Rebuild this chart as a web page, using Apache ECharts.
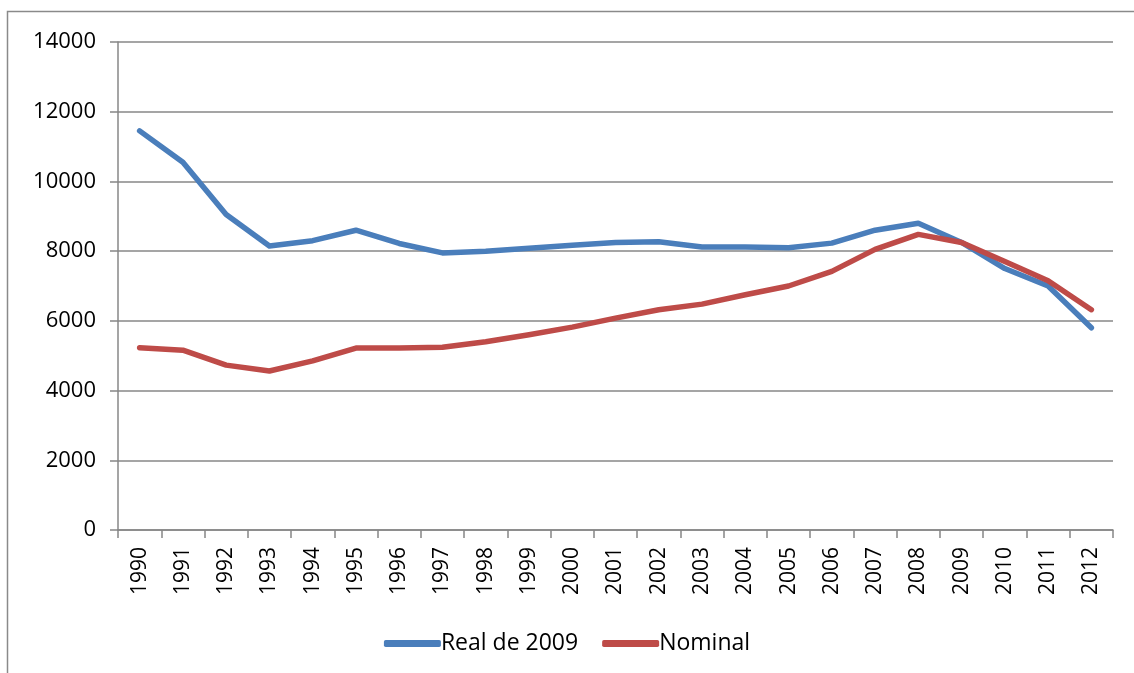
<!DOCTYPE html>
<html>
<head>
<meta charset="utf-8">
<script src="https://cdn.jsdelivr.net/npm/echarts@6/dist/echarts.min.js"></script>
<style>
  html, body { margin: 0; padding: 0; background: #fff; }
  #chart { width: 1134px; height: 673px; }
</style>
</head>
<body>
<div id="chart"></div>
<script>
// 데이터
var years = ['1990', '1991', '1992', '1993', '1994', '1995', '1996', '1997', '1998', '1999', '2000', '2001',
  '2002', '2003', '2004', '2005', '2006', '2007', '2008', '2009', '2010', '2011', '2012'];
var realData = [11450, 10550, 9050, 8150, 8300, 8600, 8220, 7950, 8000, 8080, 8170, 8250,
  8270, 8120, 8120, 8100, 8230, 8600, 8800, 8250, 7500, 7000, 5800];
var nominalData = [5230, 5160, 4730, 4560, 4850, 5220, 5220, 5240, 5400, 5600, 5820, 6080,
  6320, 6480, 6750, 7000, 7420, 8050, 8480, 8250, 7700, 7150, 6320];
var seriesNames = ['Real de 2009', 'Nominal'];

var axisGray = '#878787';
var font = '"Open Sans", "Noto Sans", sans-serif';

var myChart = echarts.init(document.getElementById('chart'));
var option = {
  animation: false,
  textStyle: { fontFamily: font, color: '#000' },
  graphic: [{
    type: 'rect',
    shape: { x: 7.5, y: 11.5, width: 1200, height: 700 },
    style: { fill: 'none', stroke: '#8a8a8a', lineWidth: 1.5 },
    silent: true
  }],
  legend: {
    top: 627,
    left: 'center',
    itemWidth: 57,
    itemHeight: 7,
    itemGap: 24,
    textStyle: { fontSize: 23, fontFamily: font, color: '#000', padding: [0, 0, 0, -5] },
    icon: 'roundRect',
    data: seriesNames
  },
  grid: { left: 118, right: 21, top: 42, bottom: 143 },
  xAxis: {
    type: 'category',
    data: years,
    boundaryGap: true,
    axisLine: { lineStyle: { color: axisGray, width: 1.5 } },
    axisTick: { show: true, alignWithLabel: false, length: 8, lineStyle: { color: axisGray, width: 1.5 } },
    axisLabel: { rotate: 90, fontSize: 21, color: '#000', margin: 17, fontFamily: font }
  },
  yAxis: {
    type: 'value',
    min: 0,
    max: 14000,
    interval: 2000,
    axisLine: { show: true, lineStyle: { color: axisGray, width: 1.5 } },
    axisTick: { show: true, length: 8, lineStyle: { color: axisGray, width: 1.5 } },
    splitLine: { lineStyle: { color: axisGray, width: 1.5 } },
    axisLabel: {
      fontSize: 22, color: '#000', margin: 22, fontFamily: font,
      formatter: function (v) { return String(v); }
    }
  },
  series: [
    {
      name: seriesNames[0],
      type: 'line',
      data: realData,
      symbol: 'none',
      itemStyle: { color: '#4A7EBB' },
      lineStyle: { width: 5.5, color: '#4A7EBB', cap: 'round', join: 'round' }
    },
    {
      name: seriesNames[1],
      type: 'line',
      data: nominalData,
      symbol: 'none',
      itemStyle: { color: '#BE4B48' },
      lineStyle: { width: 5.5, color: '#BE4B48', cap: 'round', join: 'round' }
    }
  ]
};
myChart.setOption(option);
</script>
</body>
</html>
